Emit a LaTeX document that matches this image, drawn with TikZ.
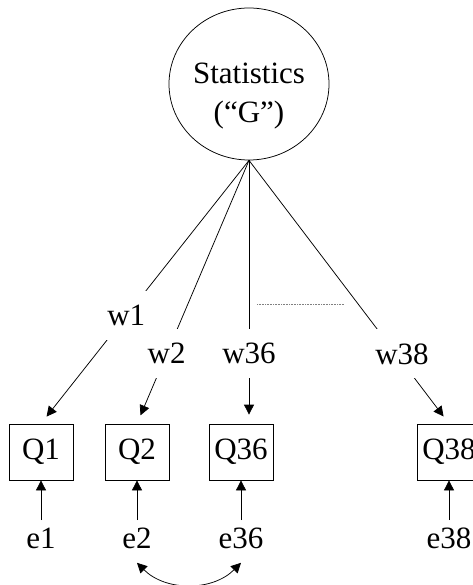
\documentclass[tikz,border=0pt]{standalone}
\usepackage{fontspec}
\setmainfont{Liberation Serif}
\usetikzlibrary{shapes.geometric,arrows.meta}

\begin{document}
\begin{tikzpicture}[x=1pt, y=-1pt, line width=0.75pt,
  every node/.style={font=\fontsize{31}{39}\selectfont},
  factor/.style={draw, ellipse, minimum width=160pt, minimum height=152pt, inner sep=0pt},
  item/.style={draw, rectangle, minimum width=64pt, minimum height=56pt, inner sep=0pt},
  weight/.style={fill=white, inner xsep=3pt, inner ysep=14pt},
  err/.style={inner sep=7pt},
  tip/.style={-{Triangle[length=10pt,width=10pt]}}]
\useasboundingbox (0,0) rectangle (472,585);
\node[factor] (G) at (249,84) {};
\node[align=center, inner sep=0pt] (Gtext) at (249,96) {Statistics\\(“G”)};
\node[item] (Q1) at (41,452) {Q1};
\node[item] (Q2) at (137,452) {Q2};
\node[item] (Q36) at (241,452) {Q36};
\node[item] (Q38) at (449,452) {Q38};
\node[err] (e1) at (41,538) {e1};
\node[err] (e2) at (137,538) {e2};
\node[err] (e36) at (241,538) {e36};
\node[err] (e38) at (449,538) {e38};
\draw[tip, shorten >=9pt] (G.south) -- node[weight, pos=0.59] (w1) {w1} (Q1.north);
\draw[tip, shorten >=9pt] (G.south) -- node[weight, pos=0.735] (w2) {w2} (Q2.north);
\draw[tip, shorten >=9pt] (G.south) -- node[weight, pos=0.735] (w36) {w36} (G.south |- Q36.north);
\draw[tip, shorten >=9pt] (G.south) -- node[weight, pos=0.735, xshift=6pt] (w38) {w38} (Q38.north);
\draw[gray, densely dotted, line width=0.6pt] (257,304) -- (344,304);
\draw[tip] (e1) -- (Q1);
\draw[tip] (e2) -- (Q2);
\draw[tip] (e36) -- (Q36);
\draw[tip] (e38) -- (Q38);
\draw[{Triangle[length=10pt,width=10pt]}-{Triangle[length=10pt,width=10pt]}] ([yshift=-7pt]e2.south) to[bend right=45] ([yshift=-7pt]e36.south);
\end{tikzpicture}
\end{document}
